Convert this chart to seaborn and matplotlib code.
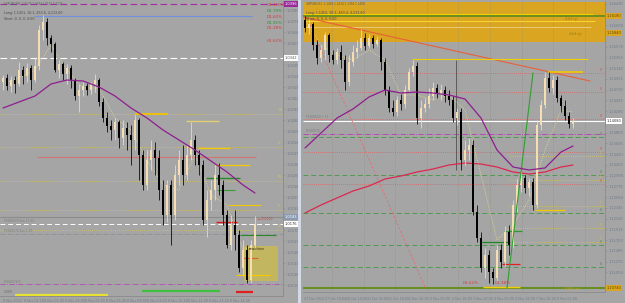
import numpy as np
import matplotlib
matplotlib.use("Agg")
import matplotlib.pyplot as plt
from matplotlib.patches import Rectangle
import seaborn as sns

sns.set_style("dark")
plt.rcParams['font.family'] = ['DejaVu Sans']

# ---------------- data : left chart (intraday) ----------------
left_open = [1.0318, 1.0322, 1.0314, 1.0320, 1.0316, 1.0330, 1.0324, 1.0332, 1.0320, 1.0334,
             1.0370, 1.0378, 1.0362, 1.0356, 1.0330, 1.0336, 1.0326, 1.0332, 1.0320, 1.0304,
             1.0310, 1.0314, 1.0310, 1.0316, 1.0320, 1.0298, 1.0282, 1.0274, 1.0270, 1.0278,
             1.0262, 1.0272, 1.0265, 1.0260, 1.0280, 1.0245, 1.0215, 1.0240, 1.0250, 1.0242,
             1.0210, 1.0185, 1.0215, 1.0185, 1.0225, 1.0240, 1.0225, 1.0245, 1.0260, 1.0245,
             1.0235, 1.0180, 1.0200, 1.0210, 1.0225, 1.0215, 1.0185, 1.0155, 1.0175, 1.0165,
             1.0132, 1.0150, 1.0120, 1.0155]
left_close = [1.0322, 1.0314, 1.0320, 1.0316, 1.0330, 1.0324, 1.0332, 1.0320, 1.0334, 1.0370,
              1.0378, 1.0362, 1.0356, 1.0330, 1.0336, 1.0326, 1.0332, 1.0320, 1.0304, 1.0310,
              1.0314, 1.0310, 1.0316, 1.0320, 1.0298, 1.0282, 1.0274, 1.0270, 1.0278, 1.0262,
              1.0272, 1.0265, 1.0260, 1.0280, 1.0245, 1.0215, 1.0240, 1.0250, 1.0242, 1.0210,
              1.0185, 1.0215, 1.0185, 1.0225, 1.0240, 1.0225, 1.0245, 1.0260, 1.0245, 1.0235,
              1.0180, 1.0200, 1.0210, 1.0225, 1.0215, 1.0185, 1.0155, 1.0175, 1.0165, 1.0132,
              1.0150, 1.0120, 1.0155, 1.0176]
left_high = [1.0325, 1.0326, 1.0324, 1.0324, 1.0338, 1.0334, 1.0337, 1.0335, 1.0342, 1.0375,
             1.0385, 1.0382, 1.0365, 1.0358, 1.0340, 1.0338, 1.0336, 1.0335, 1.0322, 1.0316,
             1.0318, 1.0317, 1.0318, 1.0326, 1.0322, 1.0302, 1.0288, 1.0280, 1.0282, 1.0280,
             1.0280, 1.0278, 1.0275, 1.0285, 1.0282, 1.0250, 1.0250, 1.0260, 1.0258, 1.0250,
             1.0220, 1.0220, 1.0220, 1.0235, 1.0250, 1.0255, 1.0255, 1.0278, 1.0265, 1.0250,
             1.0240, 1.0210, 1.0220, 1.0235, 1.0237, 1.0220, 1.0190, 1.0185, 1.0190, 1.0170,
             1.0160, 1.0155, 1.0160, 1.0184]
left_low = [1.0310, 1.0310, 1.0308, 1.0307, 1.0314, 1.0316, 1.0318, 1.0310, 1.0318, 1.0330,
            1.0360, 1.0355, 1.0348, 1.0328, 1.0322, 1.0320, 1.0316, 1.0312, 1.0300, 1.0288,
            1.0304, 1.0305, 1.0306, 1.0308, 1.0294, 1.0278, 1.0268, 1.0260, 1.0260, 1.0252,
            1.0255, 1.0250, 1.0235, 1.0250, 1.0220, 1.0210, 1.0210, 1.0230, 1.0225, 1.0200,
            1.0175, 1.0178, 1.0155, 1.0180, 1.0215, 1.0215, 1.0220, 1.0240, 1.0235, 1.0225,
            1.0175, 1.0163, 1.0190, 1.0200, 1.0205, 1.0175, 1.0152, 1.0150, 1.0150, 1.0128,
            1.0125, 1.0117, 1.0117, 1.0152]
left_ma_idx = [0, 4, 8, 12, 16, 20, 24, 28, 32, 36, 40, 44, 48, 52, 56, 60, 63]
left_ma = [1.0292, 1.0298, 1.0304, 1.0316, 1.0320, 1.0319, 1.0313, 1.0304, 1.0292,
           1.0282, 1.0270, 1.0260, 1.0250, 1.0239, 1.0228, 1.0215, 1.0207]
left_fast = [1.0316, 1.0322, 1.0330, 1.0355, 1.0330, 1.0312, 1.0312, 1.0282, 1.0270,
             1.0240, 1.0215, 1.0210, 1.0245, 1.0205, 1.0195, 1.0150, 1.0155]
left_time_labels = ["8 Nov 2022", "8 Nov 01:20", "8 Nov 02:40", "8 Nov 04:00", "8 Nov 05:20",
                    "8 Nov 06:40", "8 Nov 08:00", "8 Nov 09:20", "8 Nov 10:40", "8 Nov 12:00",
                    "8 Nov 13:20", "8 Nov 14:40"]
left_pct_labels = ["D1-100%", "D1-79%", "D1-60%", "D1-95%", "D1-38%", "H1-62%"]
left_pct_prices = [1.0395, 1.0389, 1.0383, 1.0377, 1.0372, 1.0359]
left_pct_colors = ['#d63a3a', '#2f8f2f', '#d63a3a', '#2f8f2f', '#d63a3a', '#d63a3a']
left_fib_levels = [1.0286, 1.0253, 1.0219, 1.0190, 1.0170]
left_fib_names = ["R1", "S", "S1", "S", "S"]
left_box_prices = [1.0396, 1.0342, 1.0183, 1.0176]
left_box_texts = ["1.0396", "1.0342", "1.0183", "1.0176"]
session_start = [3.0, 34.75, 58.25]
session_end = [26.25, 54.25, 62.5]

# ---------------- data : right chart (H1) ----------------
right_open = [1.1610, 1.1594, 1.1602, 1.1560, 1.1534, 1.1550, 1.1580, 1.1540, 1.1530, 1.1546,
              1.1530, 1.1486, 1.1526, 1.1546, 1.1554, 1.1574, 1.1558, 1.1574, 1.1562, 1.1570,
              1.1526, 1.1470, 1.1434, 1.1426, 1.1450, 1.1442, 1.1470, 1.1506, 1.1518, 1.1414,
              1.1434, 1.1442, 1.1458, 1.1474, 1.1462, 1.1470, 1.1458, 1.1450, 1.1414, 1.1426,
              1.1330, 1.1350, 1.1360, 1.1226, 1.1174, 1.1114, 1.1140, 1.1106, 1.1094, 1.1150,
              1.1126, 1.1186, 1.1160, 1.1240, 1.1280, 1.1294, 1.1274, 1.1286, 1.1240, 1.1400,
              1.1440, 1.1494, 1.1474, 1.1490, 1.1454, 1.1438, 1.1418, 1.1402]
right_close = [1.1594, 1.1602, 1.1560, 1.1534, 1.1550, 1.1580, 1.1540, 1.1530, 1.1546, 1.1530,
               1.1486, 1.1526, 1.1546, 1.1554, 1.1574, 1.1558, 1.1574, 1.1562, 1.1570, 1.1526,
               1.1470, 1.1434, 1.1426, 1.1450, 1.1442, 1.1470, 1.1506, 1.1518, 1.1414, 1.1434,
               1.1442, 1.1458, 1.1474, 1.1462, 1.1470, 1.1458, 1.1450, 1.1414, 1.1426, 1.1330,
               1.1350, 1.1360, 1.1226, 1.1174, 1.1114, 1.1140, 1.1106, 1.1094, 1.1150, 1.1126,
               1.1186, 1.1160, 1.1240, 1.1280, 1.1294, 1.1274, 1.1286, 1.1240, 1.1400, 1.1440,
               1.1494, 1.1474, 1.1490, 1.1454, 1.1438, 1.1418, 1.1402, 1.1408]
right_high = [1.1618, 1.1614, 1.1606, 1.1570, 1.1560, 1.1586, 1.1584, 1.1550, 1.1554, 1.1560,
              1.1540, 1.1540, 1.1560, 1.1570, 1.1592, 1.1584, 1.1582, 1.1580, 1.1578, 1.1574,
              1.1534, 1.1478, 1.1450, 1.1458, 1.1462, 1.1480, 1.1514, 1.1530, 1.1526, 1.1450,
              1.1454, 1.1474, 1.1486, 1.1482, 1.1482, 1.1478, 1.1470, 1.1458, 1.1434, 1.1434,
              1.1370, 1.1374, 1.1370, 1.1240, 1.1186, 1.1154, 1.1150, 1.1114, 1.1160, 1.1162,
              1.1198, 1.1200, 1.1250, 1.1294, 1.1310, 1.1300, 1.1294, 1.1294, 1.1410, 1.1450,
              1.1506, 1.1506, 1.1500, 1.1498, 1.1460, 1.1450, 1.1426, 1.1414]
right_low = [1.1586, 1.1582, 1.1550, 1.1522, 1.1526, 1.1530, 1.1526, 1.1522, 1.1522, 1.1514,
             1.1470, 1.1478, 1.1518, 1.1534, 1.1550, 1.1550, 1.1554, 1.1554, 1.1558, 1.1510,
             1.1460, 1.1426, 1.1418, 1.1418, 1.1430, 1.1434, 1.1466, 1.1498, 1.1402, 1.1394,
             1.1426, 1.1434, 1.1450, 1.1454, 1.1450, 1.1446, 1.1440, 1.1406, 1.1400, 1.1310,
             1.1320, 1.1330, 1.1220, 1.1166, 1.1106, 1.1094, 1.1084, 1.1082, 1.1086, 1.1114,
             1.1118, 1.1140, 1.1154, 1.1226, 1.1266, 1.1264, 1.1258, 1.1230, 1.1234, 1.1390,
             1.1434, 1.1466, 1.1462, 1.1446, 1.1426, 1.1410, 1.1394, 1.1394]
right_ma_idx = [0, 4, 8, 12, 16, 20, 24, 28, 32, 36, 40, 44, 48, 52, 56, 60, 64, 67]
right_ma_purple = [1.1354, 1.1384, 1.1414, 1.1432, 1.1456, 1.1470, 1.1464, 1.1466, 1.1464,
                   1.1460, 1.1452, 1.1414, 1.1350, 1.1316, 1.1310, 1.1314, 1.1346, 1.1358]
right_ma_red = [1.1224, 1.1240, 1.1254, 1.1268, 1.1278, 1.1292, 1.1298, 1.1306, 1.1312,
                1.1320, 1.1324, 1.1322, 1.1316, 1.1306, 1.1302, 1.1306, 1.1316, 1.1320]
right_fast = [1.1610, 1.1560, 1.1540, 1.1530, 1.1550, 1.1530, 1.1460, 1.1460, 1.1450,
              1.1460, 1.1430, 1.1300, 1.1170, 1.1200, 1.1250, 1.1350, 1.1430, 1.1426]
right_time_labels = ["27 Oct 2022", "27 Oct 18:00", "28 Oct 10:00", "31 Oct 02:00",
                     "31 Oct 18:00", "1 Nov 10:00", "2 Nov 02:00", "2 Nov 18:00",
                     "3 Nov 10:00", "4 Nov 02:00", "4 Nov 18:00", "7 Nov 10:00", "8 Nov 02:00"]
right_red_dotted = [1.1504, 1.1466, 1.1412, 1.1346, 1.1282]
right_green_dashed = [1.1376, 1.1300, 1.1224, 1.1160, 1.1116]
right_yellow_dotted = [1.1338, 1.1290, 1.1238, 1.1194, 1.1166]
right_box_prices = [1.1618, 1.1584, 1.1408, 1.1074]
right_box_texts = ["1.16180", "1.15840", "1.14080", "1.10740"]

# ---------------- figure helpers ----------------
BG = '#a5a5a5'
W, H = 625, 303
fig = plt.figure(figsize=(6.25, 3.03), dpi=100, facecolor=BG)


def px_axes(x0, y0, x1, y1):
    a = fig.add_axes([x0 / W, 1 - y1 / H, (x1 - x0) / W, (y1 - y0) / H])
    a.set_facecolor(BG)
    for s in a.spines.values():
        s.set_color('#8a8a8a')
        s.set_linewidth(0.6)
    a.spines['top'].set_visible(False)
    a.spines['left'].set_visible(False)
    return a


def candles(ax, o, h, l, c):
    o, h, l, c = map(np.asarray, (o, h, l, c))
    idx = np.arange(len(o))
    up = c >= o
    cols = np.where(up, '#f5deb3', '#000000')
    ax.vlines(idx, l, h, colors=cols, lw=0.55, zorder=4)
    bottom = np.minimum(o, c)
    height = np.maximum(np.abs(c - o), 0.00005)
    ax.bar(idx, height, bottom=bottom, width=0.62, color=cols, linewidth=0, zorder=5)


def price_ticks(ax, ticks, fmt, boxes, gap):
    keep = [t for t in ticks if min(abs(t - b) for b in boxes) > gap]
    ax.yaxis.tick_right()
    ax.set_yticks(keep)
    ax.set_yticklabels([fmt.format(v) for v in keep])


def price_boxes(ax, prices, texts, styles):
    for p, txt, (fc, tc) in zip(prices, texts, styles):
        ax.annotate(txt, xy=(1, p), xycoords=ax.get_yaxis_transform(), xytext=(1.2, 0),
                    textcoords='offset points', ha='left', va='center', fontsize=FS, color=tc,
                    bbox=dict(boxstyle='square,pad=0.15', fc=fc, ec='none'),
                    annotation_clip=False, zorder=8)


label_col = '#6f7c8c'
FS = 2.6

# ================= LEFT PANEL =================
axL = px_axes(0, 1, 283, 289)
axL.set_xlim(-0.75, 70)
axL.set_ylim(1.0111, 1.0399)

axL.add_patch(Rectangle((60.25, 1.0119), 8.5, 0.0035, facecolor='#c2b660', edgecolor='none', zorder=1))
axL.text(61.5, 1.0151, "reaction", fontsize=2.8, color='#3a3010', va='center', zorder=6)

full = (-0.75, 70)
axL.hlines(1.0396, *full, colors='#a32ca3', linestyles=(0, (6, 3)), lw=0.8, zorder=2)
axL.hlines(1.0384, 7.75, 62.25, colors='#7090e0', lw=0.8, zorder=2)
axL.hlines(1.0342, *full, colors='white', linestyles=(0, (6, 3)), lw=0.8, zorder=2)
for lv, nm in zip(left_fib_levels, left_fib_names):
    axL.hlines(lv, *full, colors='#d8c850', linestyles=(0, (1, 1.5)), lw=0.6, zorder=2)
    axL.text(68.8, lv + 0.0002, nm, fontsize=2.3, color='#d8c850', ha='left', va='bottom', zorder=6)
axL.hlines(1.0286, 33, 41.25, colors='#f2c200', lw=1.3, zorder=3)
axL.hlines(1.0279, 45.75, 54, colors='#e5cf72', lw=1.0, zorder=3)
axL.hlines(1.0252, 48.75, 56.75, colors='#f2c800', lw=1.0, zorder=3)
axL.hlines(1.0243, 8.5, 63.25, colors='#d27474', lw=0.8, zorder=2)
axL.hlines(1.0235, 53, 61.75, colors='#f2c800', lw=0.9, zorder=3)
axL.hlines(1.0222, 50.75, 59.25, colors='#2a8a2a', lw=1.0, zorder=3)
axL.hlines(1.0210, 53.5, 58, colors='#3a9a3a', lw=0.8, zorder=3)
axL.hlines(1.0195, 56.25, 64.5, colors='#f2c800', lw=0.8, zorder=3)
axL.hlines(1.0183, *full, colors='#8c8c8c', lw=0.8, zorder=2)
axL.hlines(1.0176, *full, colors='white', linestyles=(0, (5, 3)), lw=0.7, zorder=2)
axL.hlines(1.0178, 53.25, 58.5, colors='#e01818', lw=1.0, zorder=3)
axL.hlines(1.0166, *full, colors='#8a8a98', linestyles='-.', lw=0.5, zorder=2)
axL.hlines(1.0165, 59.25, 68.25, colors='#2a8a2a', lw=0.8, zorder=3)
axL.hlines(1.0142, 59.75, 63.75, colors='#e06030', lw=0.8, zorder=3)
axL.hlines(1.0125, 58.25, 66.75, colors='#f2c800', lw=0.9, zorder=3)
axL.hlines(1.0116, *full, colors='#b050b0', linestyles='-.', lw=0.6, zorder=2)
axL.text(63.7, 1.0181, "\u2190 0.0000", fontsize=2.2, color='#d03030', va='center', zorder=6)

sns.lineplot(x=left_ma_idx, y=left_fast, ax=axL, color='#e6dc8c', lw=0.6,
             linestyle=(0, (1, 1.5)), zorder=3)
candles(axL, left_open, left_high, left_low, left_close)
sns.lineplot(x=left_ma_idx, y=left_ma, ax=axL, color='#8e1e8e', lw=0.9, zorder=6)

for lab, p, col in zip(left_pct_labels, left_pct_prices, left_pct_colors):
    axL.text(65.8, p, lab, fontsize=2.9, color=col, va='center', zorder=7)
axL.text(0.2, 1.03965, "EURUSD,M5  1.0176 1.0184 1.0152 1.0176", fontsize=2.0, color='#5a5a5a', va='center')
axL.text(0.2, 1.0387, "Long: 1.1451, 10:1, 453.6, 4,213.60", fontsize=2.3, color='#4a4a4a', va='center')
axL.text(0.2, 1.0381, "Short: 0, 0, 0, 0:00", fontsize=2.3, color='#4a4a4a', va='center')
axL.text(0.2, 1.0179, "F3000574 Sxx 17:30", fontsize=2.1, color='#7a7a7a', va='center')
axL.text(0.2, 1.0169, "F3000574 Sxx 1:70", fontsize=2.1, color='#7a7a7a', va='center')
axL.text(0.2, 1.0118, "F3000574.0", fontsize=2.1, color='#7a7a7a', va='center')

price_ticks(axL, np.arange(1.0390, 1.0112, -0.0011), "{:.4f}", left_box_prices, 0.00045)
axL.tick_params(axis='y', length=1.5, width=0.4, color='#8a8a8a', labelsize=FS,
                labelcolor=label_col, pad=1.2)
axL.set_xticks([])
axL.set_xlabel('')
axL.set_ylabel('')
price_boxes(axL, left_box_prices, left_box_texts,
            [('#9a2a9a', 'white'), ('white', '#555555'), ('#8a9ab0', 'white'), ('white', '#333333')])

# left sub-window (session bars + time axis)
axS = px_axes(0, 289, 283, 296)
axS.set_xlim(-0.75, 70)
axS.set_ylim(0, 1)
sess_cols = ['#e6e030', '#40c040', '#e02020']
sess_y = [0.15, 0.78, 0.55]
for s0, s1, cc, yy in zip(session_start, session_end, sess_cols, sess_y):
    axS.hlines(yy, s0, s1, colors=cc, lw=1.6)
axS.text(0.2, 0.55, "0.0000", fontsize=2.0, color='#6a6a6a', va='center')
lpos = np.arange(len(left_time_labels)) * 5.15
axS.set_xticks(lpos)
axS.set_xticklabels(left_time_labels)
axS.tick_params(axis='x', length=1.2, width=0.4, color='#8a8a8a', labelsize=2.3,
                labelcolor=label_col, pad=0.8)
plt.setp(axS.get_xticklabels(), ha='left')
axS.set_yticks([])

# ================= RIGHT PANEL =================
axR = px_axes(303, 1, 605, 292)
axR.set_xlim(-0.5, 75)
axR.set_ylim(1.1066, 1.1648)
fullR = (-0.5, 75)

axR.add_patch(Rectangle((-0.5, 1.1566), 75.5, 0.0080, facecolor='#daa520', edgecolor='none', zorder=1))
for gx in np.arange(6.75, 75, 7.9):
    axR.axvline(gx, color='#8a8a7a', lw=0.5, linestyle=(0, (1, 2)), zorder=1.5)

axR.hlines(1.1622, -0.5, 72, colors='#f0d000', lw=0.8, zorder=2)
axR.hlines(1.1618, *fullR, colors='#5a8a1a', lw=1.2, zorder=2)
axR.hlines(1.1608, -0.5, 72.5, colors='#f5d430', lw=0.8, zorder=2)
axR.hlines(1.1596, -0.5, 71.5, colors='#e8c870', lw=0.8, zorder=2)
axR.text(65, 1.1612, "### tgt", fontsize=2.2, color='#a07a10', va='center', zorder=6)
axR.text(66, 1.1582, "### tgt", fontsize=2.2, color='#a07a10', va='center', zorder=6)

axR.plot([-0.5, 71.25], [1.1616, 1.1488], color='#e8603c', lw=0.8, zorder=3)
axR.plot([1.25, 30], [1.1600, 1.1076], color='#e07070', lw=0.6, linestyle=(0, (3, 2)), zorder=3)
axR.hlines(1.1532, 26.75, 70.75, colors='#f0d000', lw=0.8, zorder=3)
axR.vlines(37.75, 1.1310, 1.1530, colors='#505050', lw=0.6, zorder=3)
for lv in right_red_dotted:
    axR.hlines(lv, *fullR, colors='#e06060', linestyles=(0, (1, 1.5)), lw=0.6, zorder=2)
    axR.text(74.2, lv + 0.0002, "R", fontsize=2.2, color='#e05050', ha='right', va='bottom', zorder=6)
for lv in right_green_dashed:
    axR.hlines(lv, *fullR, colors='#4f9a4f', linestyles=(0, (5, 3)), lw=0.7, zorder=2)
    axR.text(74.2, lv + 0.0002, "S", fontsize=2.2, color='#3a8a3a', ha='right', va='bottom', zorder=6)
for lv in right_yellow_dotted:
    axR.hlines(lv, 51.25, 75, colors='#d8c850', linestyles=(0, (1, 1.5)), lw=0.6, zorder=2)
    axR.text(74.2, lv + 0.0002, "F", fontsize=2.2, color='#d8c040', ha='right', va='bottom', zorder=6)
axR.hlines(1.1506, 60.75, 69.5, colors='#f0c800', lw=1.2, zorder=3)
axR.hlines(1.1408, *fullR, colors='white', lw=0.8, zorder=2)
axR.hlines(1.1382, *fullR, colors='#b040b0', linestyles='-.', lw=0.6, zorder=2)
axR.hlines(1.1230, 57.5, 65, colors='#f0c800', lw=1.0, zorder=3)
axR.hlines(1.1188, 50, 54.25, colors='#2e9a2e', lw=0.9, zorder=3)
axR.hlines(1.1166, 43.75, 51.25, colors='#1e8a1e', lw=0.9, zorder=3)
axR.hlines(1.1122, 49.25, 53.75, colors='#e02020', lw=0.9, zorder=3)
axR.hlines(1.1074, *fullR, colors='#6b8e23', lw=1.5, zorder=2)
axR.hlines(1.1076, 44.5, 53.75, colors='#f0d000', lw=1.0, zorder=3)
axR.plot([50.5, 57], [1.1074, 1.1504], color='#2ea02e', lw=0.8, zorder=6)

sns.lineplot(x=right_ma_idx, y=right_fast, ax=axR, color='#e6dc8c', lw=0.6,
             linestyle=(0, (1, 1.5)), zorder=3)
sns.lineplot(x=right_ma_idx, y=right_ma_red, ax=axR, color='#dc2850', lw=0.9, zorder=4)
candles(axR, right_open, right_high, right_low, right_close)
sns.lineplot(x=right_ma_idx, y=right_ma_purple, ax=axR, color='#8e1e8e', lw=0.9, zorder=6)

axR.text(39.5, 1.1080, "H1-62%", fontsize=2.9, color='#d63a3a', va='bottom', zorder=7)
axR.text(47.5, 1.1080, "D1-38%", fontsize=2.9, color='#d63a3a', va='bottom', zorder=7)
axR.text(65, 1.1068, "### Low", fontsize=2.2, color='#c8a830', va='bottom', zorder=7)
axR.text(0.3, 1.16415, "GBPUSD,H1  1.1402 1.1414 1.1394 1.1408", fontsize=2.0, color='#5a5a5a', va='center', zorder=7)
axR.text(0.3, 1.1624, "Long: 1.1452, 10:1, 453.4, 4,213.60", fontsize=2.3, color='#4a4a4a', va='center', zorder=7)
axR.text(0.3, 1.1613, "Short: 0, 0, 0, 0:00", fontsize=2.3, color='#4a4a4a', va='center', zorder=7)
axR.text(0.3, 1.1411, "F3000510 + 11", fontsize=2.1, color='#7a7a7a', va='bottom', zorder=7)
axR.text(0.3, 1.1385, "F3000574", fontsize=2.1, color='#7a7a7a', va='bottom', zorder=7)

price_ticks(axR, np.arange(1.16430, 1.1070, -0.00215), "{:.5f}", right_box_prices, 0.0011)
axR.tick_params(axis='y', length=1.5, width=0.4, color='#8a8a8a', labelsize=FS,
                labelcolor=label_col, pad=1.2)
rpos = np.arange(len(right_time_labels)) * 5.27 - 0.25
axR.set_xticks(rpos)
axR.set_xticklabels(right_time_labels)
axR.tick_params(axis='x', length=1.2, width=0.4, color='#8a8a8a', labelsize=2.3,
                labelcolor=label_col, pad=2.5)
plt.setp(axR.get_xticklabels(), ha='left')
axR.set_xlabel('')
axR.set_ylabel('')
price_boxes(axR, right_box_prices, right_box_texts,
            [('#daa520', '#6a4a00'), ('#daa520', '#6a4a00'), ('white', '#333333'), ('#daa520', '#6a4a00')])

# panel separator
fig.patches.append(Rectangle((298 / W, 0), 3 / W, 1, transform=fig.transFigure,
                             facecolor='#d2dae6', edgecolor='none'))

fig.savefig("out.png", dpi=100, facecolor=BG)
